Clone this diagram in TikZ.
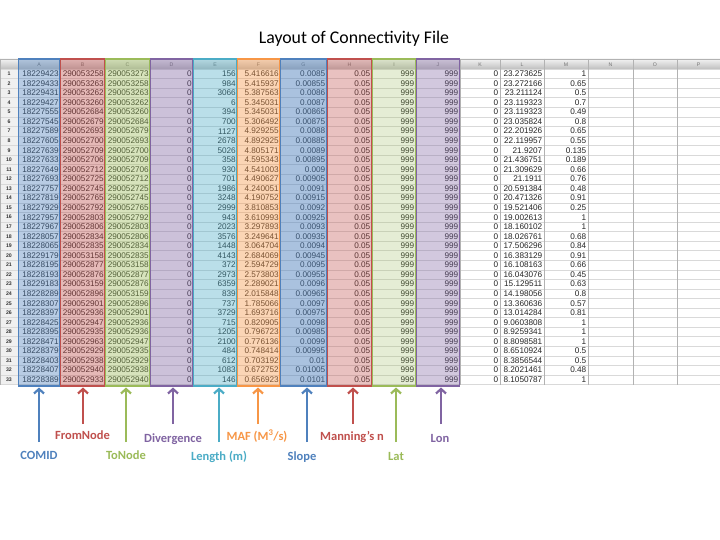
\documentclass[tikz,border=0pt]{standalone}
\usepackage{fontspec}
\setmainfont{Carlito}
\newfontfamily\cellfont{Liberation Sans}
\usetikzlibrary{arrows.meta}
\definecolor{cblue}{HTML}{4F81BD}
\definecolor{cred}{HTML}{C0504D}
\definecolor{cgreen}{HTML}{9BBB59}
\definecolor{cpurple}{HTML}{8064A2}
\definecolor{caqua}{HTML}{4BACC6}
\definecolor{corange}{HTML}{F79646}
\begin{document}
\begin{tikzpicture}[x=1pt,y=-1pt,
  cell/.style={font=\cellfont\fontsize{8.2}{9}\selectfont, text=black!85, inner sep=0, anchor=east},
  rownum/.style={font=\cellfont\bfseries\fontsize{5.2}{6}\selectfont, text=black!80, inner sep=0},
  hdrtext/.style={font=\cellfont\fontsize{5.2}{6}\selectfont, text=black!55, inner sep=0},
  gridh/.style={draw=black!15, line width=0.4pt},
  gridv/.style={draw=black!30, line width=0.5pt},
  colbox/.style={line width=1.4pt},
  lbl/.style={font=\bfseries\fontsize{12.5}{14}\selectfont, inner sep=0, anchor=base},
  arr/.style={line width=2.2pt, -{Straight Barb[length=4.5pt,width=10pt]}},
  ttl/.style={font=\fontsize{17.8}{20}\selectfont, inner sep=0, anchor=base}
]
\useasboundingbox (0,0) rectangle (720,540);
\fill[white] (0,0) rectangle (720,540);

\node[ttl] (title) at (354,44) {Layout of Connectivity File};

% header row and row-number column
\shade[top color=black!5, bottom color=black!25] (0,59) rectangle (720,69);
\fill[black!6] (0,69) rectangle (18,384.5);

% grid lines
\foreach \i in {0,...,33}
  \draw[gridh] (0,{69+\i*9.56}) -- (720,{69+\i*9.56});
\draw[gridv] (0,59) -- (720,59);
\foreach \xx in {0,18,60,105,150,193,237,280,327,372,416,460,500,544,588,633,677,720}
  \draw[gridv] (\xx,59) -- (\xx,384.5);

% header letters
\foreach \xx/\l in {39/A,82.5/B,127.5/C,171.5/D,215/E,258.5/F,303.5/G,349.5/H,394/I,438/J,480/K,522/L,566/M,610.5/N,655/O,698.5/P}
  \node[hdrtext] (h\l) at (\xx,64.3) {\l};

% data
\foreach \r/\ca/\cb/\cc/\ce/\cf/\cg/\cl/\cm in {
1/18229423/290053258/290053273/156/5.416616/0.0085/23.273625/1,
2/18229433/290053263/290053258/984/5.415937/0.00855/23.272166/0.65,
3/18229431/290053262/290053263/3066/5.387563/0.0086/23.211124/0.5,
4/18229427/290053260/290053262/6/5.345031/0.0087/23.119323/0.7,
5/18227555/290052684/290053260/394/5.345031/0.00865/23.119323/0.49,
6/18227545/290052679/290052684/700/5.306492/0.00875/23.035824/0.8,
7/18227589/290052693/290052679/1127/4.929255/0.0088/22.201926/0.65,
8/18227605/290052700/290052693/2678/4.892925/0.00885/22.119957/0.55,
9/18227639/290052709/290052700/5026/4.805171/0.0089/21.9207/0.135,
10/18227633/290052706/290052709/358/4.595343/0.00895/21.436751/0.189,
11/18227649/290052712/290052706/930/4.541003/0.009/21.309629/0.66,
12/18227693/290052725/290052712/701/4.490627/0.00905/21.1911/0.76,
13/18227757/290052745/290052725/1986/4.240051/0.0091/20.591384/0.48,
14/18227819/290052765/290052745/3248/4.190752/0.00915/20.471326/0.91,
15/18227929/290052792/290052765/2999/3.810853/0.0092/19.521406/0.25,
16/18227957/290052803/290052792/943/3.610993/0.00925/19.002613/1,
17/18227967/290052806/290052803/2023/3.297893/0.0093/18.160102/1,
18/18228057/290052834/290052806/3576/3.249641/0.00935/18.026761/0.68,
19/18228065/290052835/290052834/1448/3.064704/0.0094/17.506296/0.84,
20/18229179/290053158/290052835/4143/2.684069/0.00945/16.383129/0.91,
21/18228195/290052877/290053158/372/2.594729/0.0095/16.108163/0.66,
22/18228193/290052876/290052877/2973/2.573803/0.00955/16.043076/0.45,
23/18229183/290053159/290052876/6359/2.289021/0.0096/15.129511/0.63,
24/18228289/290052896/290053159/839/2.015848/0.00965/14.198056/0.8,
25/18228307/290052901/290052896/737/1.785066/0.0097/13.360636/0.57,
26/18228397/290052936/290052901/3729/1.693716/0.00975/13.014284/0.81,
27/18228425/290052947/290052936/715/0.820905/0.0098/9.0603808/1,
28/18228395/290052935/290052936/1205/0.796723/0.00985/8.9259341/1,
29/18228471/290052963/290052947/2100/0.776136/0.0099/8.8098581/1,
30/18228379/290052929/290052935/484/0.748414/0.00995/8.6510924/0.5,
31/18228403/290052938/290052929/612/0.703192/0.01/8.3856544/0.5,
32/18228407/290052940/290052938/1083/0.672752/0.01005/8.2021461/0.48,
33/18228389/290052933/290052940/146/0.656923/0.0101/8.1050787/1}{
  \pgfmathsetmacro\yy{69+(\r-0.5)*9.56}
  \node[rownum] (r\r) at (9,\yy) {\r};
  \node[cell] (a\r) at (59,\yy) {\ca};
  \node[cell] (b\r) at (104,\yy) {\cb};
  \node[cell] (c\r) at (149,\yy) {\cc};
  \node[cell] (d\r) at (192,\yy) {0};
  \node[cell] (e\r) at (236,\yy) {\ce};
  \node[cell] (f\r) at (279,\yy) {\cf};
  \node[cell] (g\r) at (325.5,\yy) {\cg};
  \node[cell] (hh\r) at (370.5,\yy) {0.05};
  \node[cell] (i\r) at (414.5,\yy) {999};
  \node[cell] (j\r) at (458.5,\yy) {999};
  \node[cell] (k\r) at (498.5,\yy) {0};
  \node[cell] (l\r) at (542.5,\yy) {\cl};
  \node[cell] (m\r) at (586.5,\yy) {\cm};
}

% coloured column overlays
\foreach \cl/\op/\xa/\xb in {cblue/0.40/18/60, cred/0.40/60/105, cgreen/0.40/105/150, cpurple/0.40/150/193,
  caqua/0.38/193/237, corange/0.40/237/280, cblue/0.48/280/327, cred/0.35/327/372, cgreen/0.25/372/416, cpurple/0.35/416/460}
  \draw[colbox, draw=\cl, fill=\cl, fill opacity=\op] ({\xa+0.7},59) rectangle ({\xb-0.7},386);

% arrow ends
\foreach \n/\xx/\yb in {A/39/442, B/83/424, C/126/442, D/173/424, E/219/442, F/258/424, G/307/442, H/353/424, I/396/442, J/441/424}{
  \coordinate (t\n) at (\xx,387.5);
  \coordinate (s\n) at (\xx,\yb);
}

% labels
\node[lbl, text=cblue]   (lA) at (39,459)    {COMID};
\node[lbl, text=cred]    (lB) at (82.5,439.5) {FromNode};
\node[lbl, text=cgreen]  (lC) at (126,459)   {ToNode};
\node[lbl, text=cpurple] (lD) at (173,442)   {Divergence};
\node[lbl, text=caqua]   (lE) at (219,460)   {Length (m)};
\node[lbl, text=corange] (lF) at (257,440)   {MAF (M\textsuperscript{3}/s)};
\node[lbl, text=cblue]   (lG) at (302,460)   {Slope};
\node[lbl, text=cred]    (lH) at (352,440)   {Manning’s n};
\node[lbl, text=cgreen]  (lI) at (396,460)   {Lat};
\node[lbl, text=cpurple] (lJ) at (440,442)   {Lon};

% arrows
\draw[arr, cblue]   (sA) -- (tA);
\draw[arr, cred]    (sB) -- (tB);
\draw[arr, cgreen]  (sC) -- (tC);
\draw[arr, cpurple] (sD) -- (tD);
\draw[arr, caqua]   (sE) -- (tE);
\draw[arr, corange] (sF) -- (tF);
\draw[arr, cblue]   (sG) -- (tG);
\draw[arr, cred]    (sH) -- (tH);
\draw[arr, cgreen]  (sI) -- (tI);
\draw[arr, cpurple] (sJ) -- (tJ);
\end{tikzpicture}
\end{document}
